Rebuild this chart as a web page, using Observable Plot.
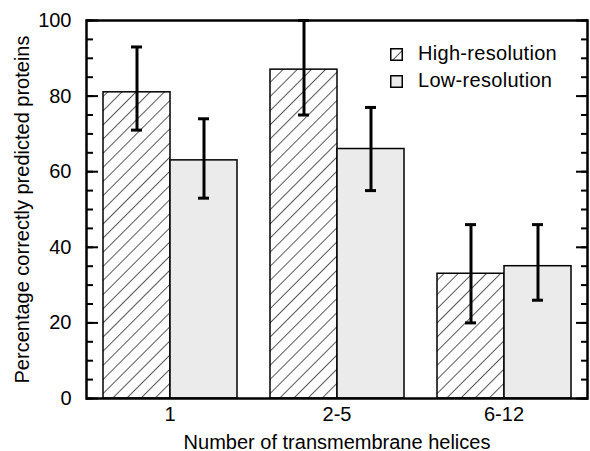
<!DOCTYPE html>
<html><head><meta charset="utf-8">
<script src="https://cdn.jsdelivr.net/npm/d3@7"></script>
<script src="https://cdn.jsdelivr.net/npm/@observablehq/plot@0.6"></script>
<style>
body{margin:0;background:#fff;font-family:"Liberation Sans",Arial,sans-serif;}
#wrap{position:relative;width:590px;height:451px;}
.legend{position:absolute;left:390px;top:40px;font-size:20px;line-height:27px;color:#000;letter-spacing:0.3px;}
.legend svg{vertical-align:-1px;margin-right:15px;}
</style></head>
<body><div id="wrap"></div>
<script>
const groups = ["1", "2-5", "6-12"];
const series = ["High-resolution", "Low-resolution"];
const highValues = [81, 87, 33];
const highLower = [71, 75, 20];
const highUpper = [93, 100, 46];
const lowValues = [63, 66, 35];
const lowLower = [53, 55, 26];
const lowUpper = [74, 77, 46];
const yMajorTicks = [0, 20, 40, 60, 80, 100];
const yMinorTicks = d3.range(0, 101, 5);
const yLimits = [0, 100];

const rows = [];
groups.forEach((g, i) => {
  rows.push({group: g, series: series[0], value: highValues[i], lo: highLower[i], hi: highUpper[i]});
  rows.push({group: g, series: series[1], value: lowValues[i], lo: lowLower[i], hi: lowUpper[i]});
});

const font = "Liberation Sans, Arial, sans-serif";
const plot = Plot.plot({
  width: 590, height: 451,
  marginTop: 20, marginBottom: 53, marginLeft: 85, marginRight: 2,
  style: {fontFamily: font, fontSize: "20px", color: "#000", background: "#fff"},
  fx: {domain: groups, padding: 0, axis: null},
  x: {domain: series, paddingInner: 0, paddingOuter: 0.245, axis: null},
  y: {domain: yLimits, axis: null},
  marks: [
    Plot.barY(rows.filter(d => d.series === series[0]), {fx: "group", x: "series", y: "value", fill: "url(#hatch)", stroke: "black", strokeWidth: 1.5}),
    Plot.barY(rows.filter(d => d.series === series[1]), {fx: "group", x: "series", y: "value", fill: "#ebebeb", stroke: "black", strokeWidth: 1.5}),
    Plot.ruleX(rows, {fx: "group", x: "series", y1: "lo", y2: "hi", stroke: "black", strokeWidth: 3}),
    Plot.tickY(rows, {fx: "group", x: "series", y: "hi", stroke: "black", strokeWidth: 3, insetLeft: 28, insetRight: 28}),
    Plot.tickY(rows, {fx: "group", x: "series", y: "lo", stroke: "black", strokeWidth: 3, insetLeft: 28, insetRight: 28}),
    Plot.ruleY(yLimits, {stroke: "black", strokeWidth: 2.5}),
    Plot.frame({anchor: "left", facetAnchor: "left", stroke: "black", strokeWidth: 2.5}),
    Plot.frame({anchor: "right", facetAnchor: "right", stroke: "black", strokeWidth: 2.5}),
    Plot.axisY({anchor: "left", ticks: yMajorTicks, tickSize: 12, insetLeft: 12, tickFormat: () => "", label: null, stroke: "black", strokeWidth: 2}),
    Plot.axisY({anchor: "left", ticks: yMinorTicks, tickSize: 7, insetLeft: 7, tickFormat: () => "", label: null, stroke: "black", strokeWidth: 2}),
    Plot.axisY({anchor: "right", ticks: yMajorTicks, tickSize: 12, insetRight: 12, tickFormat: () => "", label: null, stroke: "black", strokeWidth: 2}),
    Plot.axisY({anchor: "right", ticks: yMinorTicks, tickSize: 7, insetRight: 7, tickFormat: () => "", label: null, stroke: "black", strokeWidth: 2}),
    Plot.axisY({anchor: "left", ticks: yMajorTicks, tickSize: 0, tickPadding: 15, fontSize: 20,
      label: "Percentage correctly predicted proteins", labelAnchor: "center", labelOffset: 72, labelArrow: "none"}),
    Plot.axisFx({anchor: "bottom", tickSize: 0, tickPadding: 8, fontSize: 20,
      label: "Number of transmembrane helices", labelAnchor: "center", labelOffset: 50, labelArrow: "none"})
  ]
});

d3.select(plot).insert("defs", ":first-child").html(`
  <pattern id="hatch" patternUnits="userSpaceOnUse" width="10" height="10" patternTransform="rotate(45)">
    <rect width="10" height="10" fill="#fff"/>
    <line x1="0" y1="0" x2="0" y2="10" stroke="#000" stroke-width="1.3"/>
  </pattern>`);

const wrap = document.getElementById("wrap");
wrap.appendChild(plot);

const legend = document.createElement("div");
legend.className = "legend";
legend.innerHTML = series.map((s, i) => `<div><svg width="13" height="13"><rect x="0.75" y="0.75" width="11.5" height="11.5" fill="${i === 0 ? "url(#hatch)" : "#ebebeb"}" stroke="#000" stroke-width="1.5"/></svg>${s}</div>`).join("");
wrap.appendChild(legend);
</script>
</body></html>
